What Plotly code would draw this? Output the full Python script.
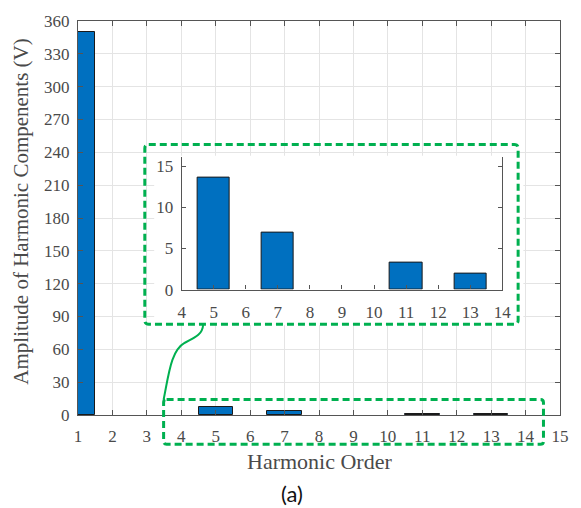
import plotly.graph_objects as go

# Harmonic spectrum (full view)
main_orders = [1, 5, 7, 11, 13]
main_amps = [350, 7.5, 3.6, 1.2, 1.0]

# Zoomed view of the low-order harmonics
inset_orders = [5, 7, 11, 13]
inset_amps = [13.7, 7.0, 3.3, 2.0]

main_xticks = list(range(1, 16))
main_yticks = list(range(0, 361, 30))
inset_xticks = list(range(4, 15))
inset_yticks = [0, 5, 10, 15]

W, H = 581, 508
ML, MR, MT, MB = 78, 16, 17, 93
PX0, PX1 = ML, W - MR
PY0, PY1 = MT, H - MB
XR = (1, 15)
YR = (0, 360)

BAR_BLUE = "#0070C0"
EDGE = "#1a1a1a"
GREEN = "#00B050"
AXC = "#555555"
TXT = "#4a4a4a"
SERIF = "Liberation Serif"


def paper(px, py):
    return (px - PX0) / (PX1 - PX0), (PY1 - py) / (PY1 - PY0)


def data(px, py):
    x = XR[0] + (px - PX0) / (PX1 - PX0) * (XR[1] - XR[0])
    y = YR[0] + (PY1 - py) / (PY1 - PY0) * (YR[1] - YR[0])
    return x, y


def pt(px, py):
    u, v = paper(px, py)
    return f"{u:.5f},{v:.5f}"


def rounded_rect(x0, y0, x1, y1, r):
    return (
        f"M {pt(x0 + r, y0)} L {pt(x1 - r, y0)} Q {pt(x1, y0)} {pt(x1, y0 + r)} "
        f"L {pt(x1, y1 - r)} Q {pt(x1, y1)} {pt(x1 - r, y1)} "
        f"L {pt(x0 + r, y1)} Q {pt(x0, y1)} {pt(x0, y1 - r)} "
        f"L {pt(x0, y0 + r)} Q {pt(x0, y0)} {pt(x0 + r, y0)} Z"
    )


fig = go.Figure()

fig.add_trace(go.Bar(
    x=main_orders, y=main_amps, width=1.0,
    marker=dict(color=BAR_BLUE, line=dict(color=EDGE, width=1)),
    xaxis="x", yaxis="y", showlegend=False,
))

fig.add_trace(go.Bar(
    x=inset_orders, y=inset_amps, width=1.0,
    marker=dict(color=BAR_BLUE, line=dict(color=EDGE, width=1)),
    xaxis="x2", yaxis="y2", showlegend=False,
))

# inset domain from its pixel box
ix0, iy0 = paper(182.7, 288.3)
ix1, iy1 = paper(506.7, 154)


def tf():
    return dict(family=SERIF, size=17, color=TXT)


fig.update_layout(
    width=W, height=H,
    margin=dict(l=ML, r=MR, t=MT, b=MB),
    paper_bgcolor="white", plot_bgcolor="white",
    font=dict(family=SERIF, size=17, color=TXT),
    bargap=0,
    xaxis=dict(
        range=list(XR), tickvals=main_xticks, ticks="inside", ticklen=5,
        tickcolor=AXC, showline=True, linecolor=AXC, linewidth=1.2,
        mirror="ticks", showgrid=True, gridcolor="#e4e4e4", zeroline=False,
        tickfont=tf(), ticklabelstandoff=5, domain=[0, 1], anchor="y",
    ),
    yaxis=dict(
        range=list(YR), tickvals=main_yticks, ticks="inside", ticklen=5,
        tickcolor=AXC, showline=True, linecolor=AXC, linewidth=1.2,
        mirror="ticks", showgrid=True, gridcolor="#e4e4e4", zeroline=False,
        tickfont=tf(), ticklabelstandoff=4, domain=[0, 1], anchor="x",
    ),
    xaxis2=dict(
        range=[4, 14], tickvals=inset_xticks, ticks="inside", ticklen=4,
        tickcolor=AXC, showline=True, linecolor=AXC, linewidth=1.2,
        mirror=False, showgrid=False, zeroline=False,
        tickfont=tf(), ticklabelstandoff=7, domain=[ix0, ix1], anchor="y2",
    ),
    yaxis2=dict(
        range=[0, 16.2], tickvals=inset_yticks, ticks="inside", ticklen=4,
        tickcolor=AXC, showline=True, linecolor=AXC, linewidth=1.2,
        mirror="ticks", showgrid=False, zeroline=False,
        tickfont=tf(), ticklabelstandoff=4, domain=[iy0, iy1], anchor="x2",
    ),
)

# white backing panel for the inset (covers the main grid)
bx0, by0 = data(155, 324)
bx1, by1 = data(528, 153)
fig.add_shape(type="rect", xref="x", yref="y", layer="between",
              x0=bx0, y0=by0, x1=bx1, y1=by1,
              fillcolor="white", line=dict(width=0))

dash = dict(color=GREEN, width=3, dash="7px,4px")
fig.add_shape(type="path", xref="paper", yref="paper", layer="above",
              path=rounded_rect(145.5, 141.7, 522.7, 323.3, 4), line=dash)
fig.add_shape(type="path", xref="paper", yref="paper", layer="above",
              path=rounded_rect(164.5, 399.3, 548.3, 444.5, 3), line=dash)

# connector between the highlighted range and the zoomed view
conn = (f"M {pt(164.5, 399.5)} C {pt(170, 372)} {pt(172, 350)} {pt(186, 342)} "
        f"C {pt(198, 336)} {pt(204, 333)} {pt(204.5, 323.3)}")
fig.add_shape(type="path", xref="paper", yref="paper", layer="above",
              path=conn, line=dict(color=GREEN, width=2))

fig.add_annotation(text="Harmonic Order", xref="paper", yref="paper",
                   x=paper(321.7, 0)[0], y=paper(0, 462)[1], showarrow=False,
                   xanchor="center", yanchor="middle",
                   font=dict(family=SERIF, size=22, color=TXT))
fig.add_annotation(text="Amplitude of Harmonic Compenents (V)", xref="paper", yref="paper",
                   x=paper(20, 0)[0], y=paper(0, 210)[1], showarrow=False, textangle=-90,
                   xanchor="center", yanchor="middle",
                   font=dict(family=SERIF, size=21, color=TXT))
fig.add_annotation(text="(a)", xref="paper", yref="paper",
                   x=paper(294, 0)[0], y=paper(0, 494)[1], showarrow=False,
                   xanchor="center", yanchor="middle",
                   font=dict(family="Lato, Open Sans, sans-serif", size=22, color="#111111"))

fig.write_html("out.html")
